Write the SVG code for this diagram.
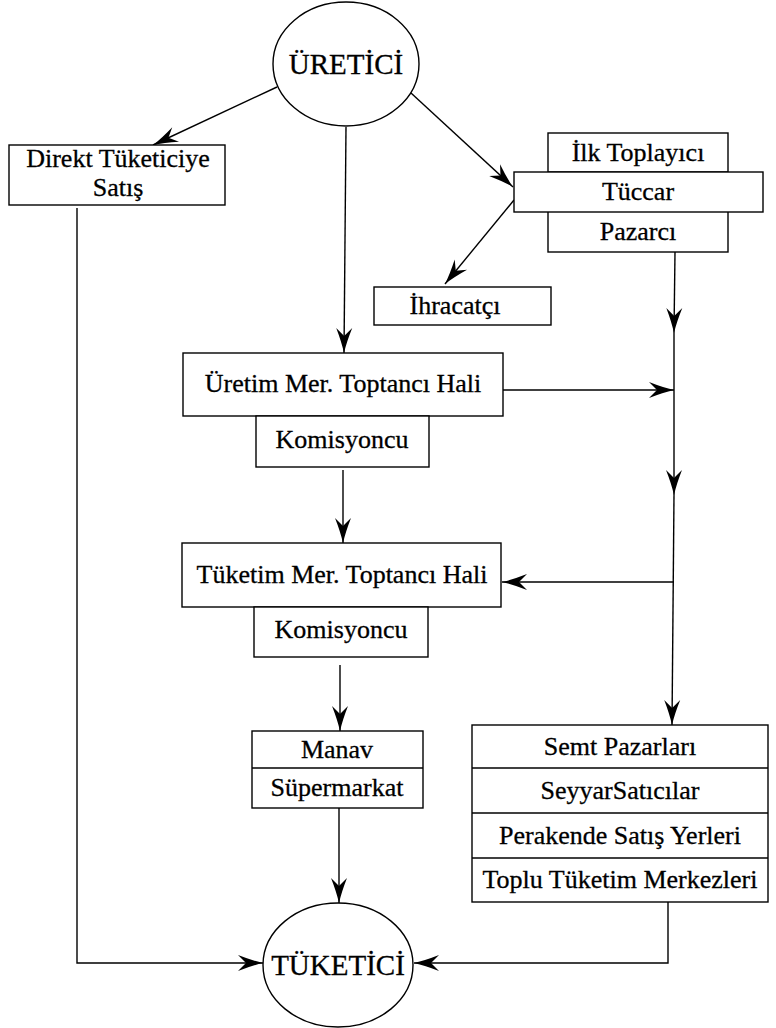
<svg xmlns="http://www.w3.org/2000/svg" width="776" height="1028" viewBox="0 0 776 1028">
  <defs>
    <!-- swept-back dart arrowhead, tip at the line end -->
    <marker id="dart" markerUnits="userSpaceOnUse" markerWidth="28" markerHeight="18" viewBox="-26 -9 28 18" refX="0" refY="0" orient="auto">
      <path d="M0,0 Q-11,-2.5 -25,-8 L-17,0 L-25,8 Q-11,2.5 0,0 Z" fill="#000"/>
    </marker>
  </defs>
  <style>
    .box{fill:#fff;stroke:#000;stroke-width:1.4}
    .sep{fill:none;stroke:#000;stroke-width:1.4}
    .lbl{font-family:"Liberation Serif","Times New Roman",serif;font-size:26px;text-anchor:middle;fill:#000;stroke:#000;stroke-width:0.3}
    .big{font-size:29px}
    .wire{fill:none;stroke:#000;stroke-width:1.4;marker-end:url(#dart)}
  </style>
  <rect width="776" height="1028" fill="#fff"/>

  <!-- connectors -->
  <g id="connectors">
    <path class="wire" d="M277,87 L153,145"/>
    <path class="wire" d="M411,93 L513,187"/>
    <path class="wire" d="M514,200 L445,284"/>
    <path class="wire" d="M346,127 L344,353"/>
    <path class="wire" d="M675,252 L674,333"/>
    <path class="wire" d="M674,333 L674,495"/>
    <path class="wire" d="M674,495 L672,725"/>
    <path class="wire" d="M503,390 L674,390"/>
    <path class="wire" d="M674,582 L502,582"/>
    <path class="wire" d="M343,470 L343,543"/>
    <path class="wire" d="M340,665 L340,731"/>
    <path class="wire" d="M339,808 L339,903"/>
    <path class="wire" d="M77,208 L77,963 L263,963"/>
    <path class="wire" d="M668,902 L668,963 L414,963"/>
  </g>

  <g id="uretici">
    <ellipse class="box" cx="346" cy="64" rx="73" ry="62"/>
    <text class="lbl big" x="346" y="74">ÜRETİCİ</text>
  </g>

  <g id="direkt">
    <rect class="box" x="9" y="145" width="216" height="60"/>
    <text class="lbl" x="118" y="167">Direkt Tüketiciye</text>
    <text class="lbl" x="118" y="196">Satış</text>
  </g>

  <g id="toplayici">
    <rect class="box" x="548" y="133" width="180" height="39"/>
    <text class="lbl" x="638" y="161">İlk Toplayıcı</text>
  </g>
  <g id="pazarci">
    <rect class="box" x="548" y="211" width="180" height="41"/>
    <text class="lbl" x="638" y="240">Pazarcı</text>
  </g>
  <g id="tuccar">
    <rect class="box" x="514" y="172" width="249" height="40"/>
    <text class="lbl" x="638" y="200">Tüccar</text>
  </g>

  <g id="ihracatci">
    <rect class="box" x="374" y="287" width="177" height="38"/>
    <text class="lbl" x="455" y="314">İhracatçı</text>
  </g>

  <g id="uretim-hali">
    <rect class="box" x="183" y="353" width="320" height="63"/>
    <text class="lbl" x="343" y="392">Üretim Mer. Toptancı Hali</text>
  </g>
  <g id="komisyoncu-1">
    <rect class="box" x="256" y="416" width="173" height="51"/>
    <text class="lbl" x="342" y="448">Komisyoncu</text>
  </g>

  <g id="tuketim-hali">
    <rect class="box" x="182" y="543" width="319" height="64"/>
    <text class="lbl" x="342" y="583">Tüketim Mer. Toptancı Hali</text>
  </g>
  <g id="komisyoncu-2">
    <rect class="box" x="254" y="607" width="174" height="50"/>
    <text class="lbl" x="341" y="638">Komisyoncu</text>
  </g>

  <g id="manav">
    <rect class="box" x="252" y="731" width="171" height="77"/>
    <line class="sep" x1="252" y1="768" x2="423" y2="768"/>
    <text class="lbl" x="337" y="758">Manav</text>
    <text class="lbl" x="337" y="796">Süpermarkat</text>
  </g>

  <g id="semt">
    <rect class="box" x="472" y="725" width="296" height="177"/>
    <line class="sep" x1="472" y1="768" x2="768" y2="768"/>
    <line class="sep" x1="472" y1="813" x2="768" y2="813"/>
    <line class="sep" x1="472" y1="858" x2="768" y2="858"/>
    <text class="lbl" x="620" y="755">Semt Pazarları</text>
    <text class="lbl" x="620" y="799">SeyyarSatıcılar</text>
    <text class="lbl" x="620" y="844">Perakende Satış Yerleri</text>
    <text class="lbl" x="620" y="888">Toplu Tüketim Merkezleri</text>
  </g>

  <g id="tuketici">
    <ellipse class="box" cx="338" cy="965" rx="75" ry="62"/>
    <text class="lbl big" x="338" y="975">TÜKETİCİ</text>
  </g>
</svg>
